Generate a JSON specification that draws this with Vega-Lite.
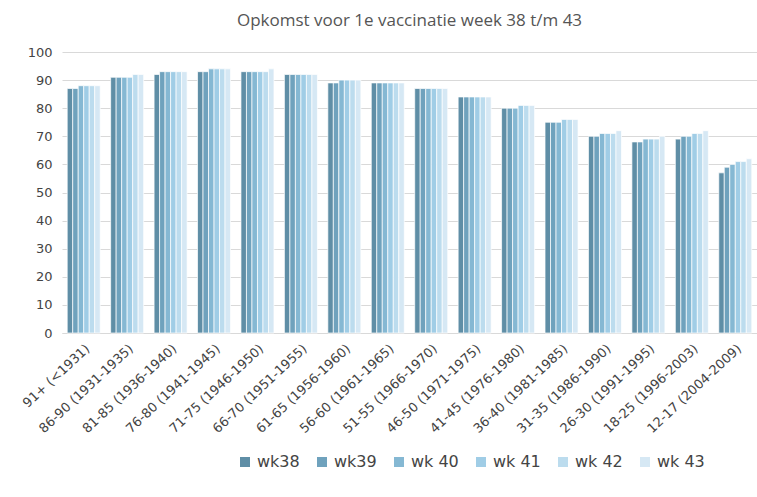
{
  "$schema": "https://vega.github.io/schema/vega-lite/v6.json",
  "autosize": "none",
  "width": 695,
  "height": 281,
  "padding": {"left": 62, "top": 52, "right": 0, "bottom": 164},
  "background": "white",
  "title": {"text": "Opkomst voor 1e vaccinatie week 38 t/m 43", "fontSize": 17, "font": "Open Sans", "fontWeight": "normal", "color": "#555555", "offset": 16, "anchor": "middle"},
  "data": {"values": [
    {"g":"91+ (<1931)","w":"wk38","v":87},{"g":"91+ (<1931)","w":"wk39","v":87},{"g":"91+ (<1931)","w":"wk 40","v":88},{"g":"91+ (<1931)","w":"wk 41","v":88},{"g":"91+ (<1931)","w":"wk 42","v":88},{"g":"91+ (<1931)","w":"wk 43","v":88},
    {"g":"86-90 (1931-1935)","w":"wk38","v":91},{"g":"86-90 (1931-1935)","w":"wk39","v":91},{"g":"86-90 (1931-1935)","w":"wk 40","v":91},{"g":"86-90 (1931-1935)","w":"wk 41","v":91},{"g":"86-90 (1931-1935)","w":"wk 42","v":92},{"g":"86-90 (1931-1935)","w":"wk 43","v":92},
    {"g":"81-85 (1936-1940)","w":"wk38","v":92},{"g":"81-85 (1936-1940)","w":"wk39","v":93},{"g":"81-85 (1936-1940)","w":"wk 40","v":93},{"g":"81-85 (1936-1940)","w":"wk 41","v":93},{"g":"81-85 (1936-1940)","w":"wk 42","v":93},{"g":"81-85 (1936-1940)","w":"wk 43","v":93},
    {"g":"76-80 (1941-1945)","w":"wk38","v":93},{"g":"76-80 (1941-1945)","w":"wk39","v":93},{"g":"76-80 (1941-1945)","w":"wk 40","v":94},{"g":"76-80 (1941-1945)","w":"wk 41","v":94},{"g":"76-80 (1941-1945)","w":"wk 42","v":94},{"g":"76-80 (1941-1945)","w":"wk 43","v":94},
    {"g":"71-75 (1946-1950)","w":"wk38","v":93},{"g":"71-75 (1946-1950)","w":"wk39","v":93},{"g":"71-75 (1946-1950)","w":"wk 40","v":93},{"g":"71-75 (1946-1950)","w":"wk 41","v":93},{"g":"71-75 (1946-1950)","w":"wk 42","v":93},{"g":"71-75 (1946-1950)","w":"wk 43","v":94},
    {"g":"66-70 (1951-1955)","w":"wk38","v":92},{"g":"66-70 (1951-1955)","w":"wk39","v":92},{"g":"66-70 (1951-1955)","w":"wk 40","v":92},{"g":"66-70 (1951-1955)","w":"wk 41","v":92},{"g":"66-70 (1951-1955)","w":"wk 42","v":92},{"g":"66-70 (1951-1955)","w":"wk 43","v":92},
    {"g":"61-65 (1956-1960)","w":"wk38","v":89},{"g":"61-65 (1956-1960)","w":"wk39","v":89},{"g":"61-65 (1956-1960)","w":"wk 40","v":90},{"g":"61-65 (1956-1960)","w":"wk 41","v":90},{"g":"61-65 (1956-1960)","w":"wk 42","v":90},{"g":"61-65 (1956-1960)","w":"wk 43","v":90},
    {"g":"56-60 (1961-1965)","w":"wk38","v":89},{"g":"56-60 (1961-1965)","w":"wk39","v":89},{"g":"56-60 (1961-1965)","w":"wk 40","v":89},{"g":"56-60 (1961-1965)","w":"wk 41","v":89},{"g":"56-60 (1961-1965)","w":"wk 42","v":89},{"g":"56-60 (1961-1965)","w":"wk 43","v":89},
    {"g":"51-55 (1966-1970)","w":"wk38","v":87},{"g":"51-55 (1966-1970)","w":"wk39","v":87},{"g":"51-55 (1966-1970)","w":"wk 40","v":87},{"g":"51-55 (1966-1970)","w":"wk 41","v":87},{"g":"51-55 (1966-1970)","w":"wk 42","v":87},{"g":"51-55 (1966-1970)","w":"wk 43","v":87},
    {"g":"46-50 (1971-1975)","w":"wk38","v":84},{"g":"46-50 (1971-1975)","w":"wk39","v":84},{"g":"46-50 (1971-1975)","w":"wk 40","v":84},{"g":"46-50 (1971-1975)","w":"wk 41","v":84},{"g":"46-50 (1971-1975)","w":"wk 42","v":84},{"g":"46-50 (1971-1975)","w":"wk 43","v":84},
    {"g":"41-45 (1976-1980)","w":"wk38","v":80},{"g":"41-45 (1976-1980)","w":"wk39","v":80},{"g":"41-45 (1976-1980)","w":"wk 40","v":80},{"g":"41-45 (1976-1980)","w":"wk 41","v":81},{"g":"41-45 (1976-1980)","w":"wk 42","v":81},{"g":"41-45 (1976-1980)","w":"wk 43","v":81},
    {"g":"36-40 (1981-1985)","w":"wk38","v":75},{"g":"36-40 (1981-1985)","w":"wk39","v":75},{"g":"36-40 (1981-1985)","w":"wk 40","v":75},{"g":"36-40 (1981-1985)","w":"wk 41","v":76},{"g":"36-40 (1981-1985)","w":"wk 42","v":76},{"g":"36-40 (1981-1985)","w":"wk 43","v":76},
    {"g":"31-35 (1986-1990)","w":"wk38","v":70},{"g":"31-35 (1986-1990)","w":"wk39","v":70},{"g":"31-35 (1986-1990)","w":"wk 40","v":71},{"g":"31-35 (1986-1990)","w":"wk 41","v":71},{"g":"31-35 (1986-1990)","w":"wk 42","v":71},{"g":"31-35 (1986-1990)","w":"wk 43","v":72},
    {"g":"26-30 (1991-1995)","w":"wk38","v":68},{"g":"26-30 (1991-1995)","w":"wk39","v":68},{"g":"26-30 (1991-1995)","w":"wk 40","v":69},{"g":"26-30 (1991-1995)","w":"wk 41","v":69},{"g":"26-30 (1991-1995)","w":"wk 42","v":69},{"g":"26-30 (1991-1995)","w":"wk 43","v":70},
    {"g":"18-25 (1996-2003)","w":"wk38","v":69},{"g":"18-25 (1996-2003)","w":"wk39","v":70},{"g":"18-25 (1996-2003)","w":"wk 40","v":70},{"g":"18-25 (1996-2003)","w":"wk 41","v":71},{"g":"18-25 (1996-2003)","w":"wk 42","v":71},{"g":"18-25 (1996-2003)","w":"wk 43","v":72},
    {"g":"12-17 (2004-2009)","w":"wk38","v":57},{"g":"12-17 (2004-2009)","w":"wk39","v":59},{"g":"12-17 (2004-2009)","w":"wk 40","v":60},{"g":"12-17 (2004-2009)","w":"wk 41","v":61},{"g":"12-17 (2004-2009)","w":"wk 42","v":61},{"g":"12-17 (2004-2009)","w":"wk 43","v":62}
  ]},
  "mark": {"type": "bar", "stroke": "white", "strokeWidth": 0.7},
  "encoding": {
    "x": {"field": "g", "type": "nominal", "sort": null, "title": null,
      "scale": {"paddingInner": 0.24, "paddingOuter": 0.12},
      "axis": {"labelAngle": -43, "labelFont": "DejaVu Sans", "labelFontSize": 13, "labelColor": "#444444", "ticks": false, "domainColor": "#d9d9d9", "labelPadding": 9}},
    "xOffset": {"field": "w", "type": "nominal", "sort": ["wk38","wk39","wk 40","wk 41","wk 42","wk 43"]},
    "y": {"field": "v", "type": "quantitative", "title": null,
      "scale": {"domain": [0, 100], "nice": false},
      "axis": {"values": [0,10,20,30,40,50,60,70,80,90,100], "labelFont": "DejaVu Sans", "labelFontSize": 13, "labelColor": "#444444", "ticks": false, "domain": false, "gridColor": "#d9d9d9", "labelPadding": 10}},
    "color": {"field": "w", "type": "nominal", "sort": ["wk38","wk39","wk 40","wk 41","wk 42","wk 43"],
      "scale": {"domain": ["wk38","wk39","wk 40","wk 41","wk 42","wk 43"], "range": ["#5f8ea6","#6fa2bd","#85b8d3","#a0cde6","#bcdcee","#d6e8f4"]},
      "legend": {"title": null, "orient": "none", "legendX": 175, "legendY": 402, "direction": "horizontal", "columns": 6, "symbolType": "square", "symbolSize": 100, "symbolStrokeWidth": 0, "labelFont": "DejaVu Sans", "labelFontSize": 16, "labelColor": "#444444", "columnPadding": 14, "labelOffset": 4}}
  },
  "config": {"view": {"stroke": null}}
}
